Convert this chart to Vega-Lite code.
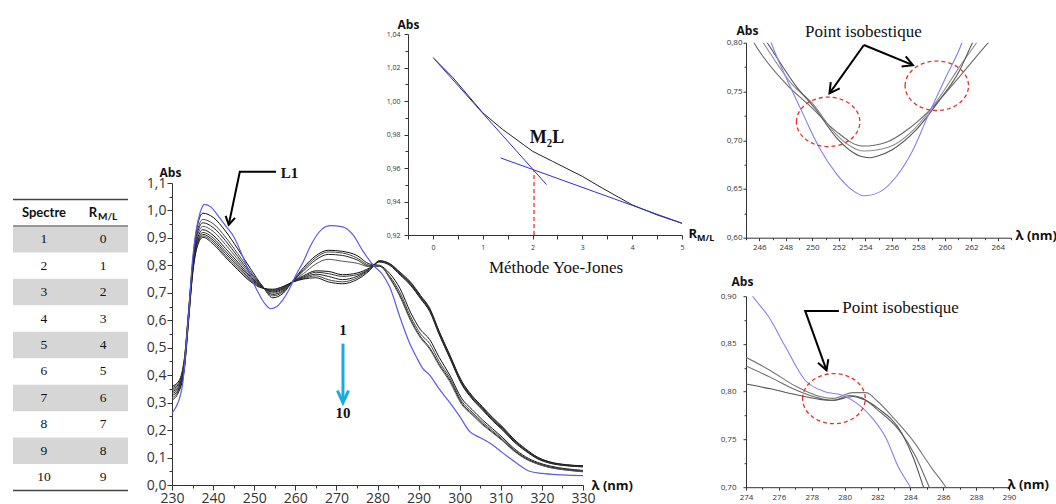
{
  "$schema": "https://vega.github.io/schema/vega-lite/v6.json",
  "padding": {"left": 12, "top": 18, "right": 0, "bottom": 0},
  "background": "white",
  "config": {
    "view": {"stroke": null},
    "axis": {"labelFlush": false, "labelOverlap": false, "grid": false, "labelFont": "Open Sans", "titleFont": "Open Sans", "labelColor": "#333333", "tickColor": "#333333", "domainColor": "#333333", "titleColor": "#111111"}
  },
  "resolve": {"scale": {"color": "independent"}},
  "spacing": 17,
  "hconcat": [
    {
      "width": 115,
      "height": 457,
      "data": {"values": [
        {"row": 1, "rml": 0}, {"row": 2, "rml": 1}, {"row": 3, "rml": 2}, {"row": 4, "rml": 3}, {"row": 5, "rml": 4},
        {"row": 6, "rml": 5}, {"row": 7, "rml": 6}, {"row": 8, "rml": 7}, {"row": 9, "rml": 8}, {"row": 10, "rml": 9}
      ]},
      "layer": [
        {
          "transform": [{"filter": "datum.row % 2 == 1"}],
          "mark": {"type": "rect", "color": "#d6d6d6"},
          "encoding": {
            "y": {"field": "row", "type": "ordinal", "scale": {"domain": [0,1,2,3,4,5,6,7,8,9,10], "paddingInner": 0, "paddingOuter": 0, "range": [165.5, 456.5]}, "axis": null},
            "x": {"value": 0},
            "x2": {"value": "width"}
          }
        },
        {
          "data": {"values": [{"row": 0}]},
          "mark": {"type": "rule", "color": "#444444", "strokeWidth": 1.6},
          "encoding": {"y": {"field": "row", "type": "ordinal", "bandPosition": 0, "axis": null}}
        },
        {
          "data": {"values": [{"row": 1}]},
          "mark": {"type": "rule", "color": "#444444", "strokeWidth": 1},
          "encoding": {"y": {"field": "row", "type": "ordinal", "bandPosition": 0, "axis": null}}
        },
        {
          "data": {"values": [{"row": 10}]},
          "mark": {"type": "rule", "color": "#444444", "strokeWidth": 1.6},
          "encoding": {"y": {"field": "row", "type": "ordinal", "bandPosition": 1, "axis": null}}
        },
        {
          "mark": {"type": "text", "font": "Liberation Serif", "fontSize": 13.5, "color": "#111111", "align": "center", "baseline": "middle"},
          "encoding": {
            "y": {"field": "row", "type": "ordinal", "axis": null},
            "x": {"datum": 0, "type": "quantitative", "scale": {"domain": [-0.5254, 1.4237], "nice": false, "zero": false}, "axis": null},
            "text": {"field": "row"}
          }
        },
        {
          "mark": {"type": "text", "font": "Liberation Serif", "fontSize": 13.5, "color": "#111111", "align": "center", "baseline": "middle"},
          "encoding": {
            "y": {"field": "row", "type": "ordinal", "axis": null},
            "x": {"datum": 1, "type": "quantitative", "axis": null},
            "text": {"field": "rml"}
          }
        },
        {
          "data": {"values": [{"row": 0, "t": "Spectre"}]},
          "mark": {"type": "text", "font": "Lato", "fontWeight": "bold", "fontSize": 13, "color": "#111111", "align": "center", "baseline": "middle"},
          "encoding": {
            "y": {"field": "row", "type": "ordinal", "axis": null},
            "x": {"datum": 0, "type": "quantitative", "axis": null},
            "text": {"field": "t"}
          }
        },
        {
          "data": {"values": [{"row": 0, "t": "R"}]},
          "mark": {"type": "text", "font": "Lato", "fontWeight": "bold", "fontSize": 13, "color": "#111111", "align": "center", "baseline": "middle", "dx": -10},
          "encoding": {
            "y": {"field": "row", "type": "ordinal", "axis": null},
            "x": {"datum": 1, "type": "quantitative", "axis": null},
            "text": {"field": "t"}
          }
        },
        {
          "data": {"values": [{"row": 0, "t": "M/L"}]},
          "mark": {"type": "text", "font": "Lato", "fontWeight": "bold", "fontSize": 10, "color": "#111111", "align": "left", "baseline": "middle", "dx": -5, "dy": 4},
          "encoding": {
            "y": {"field": "row", "type": "ordinal", "axis": null},
            "x": {"datum": 1, "type": "quantitative", "axis": null},
            "text": {"field": "t"}
          }
        }
      ]
    },
    {
      "spacing": 5,
      "resolve": {"scale": {"color": "independent"}},
      "hconcat": [
        {
          "columns": 1,
          "align": "none",
          "spacing": -111,
          "resolve": {"scale": {"color": "independent"}},
          "concat": [
            {
              "spacing": 0,
              "hconcat": [
                {"width": 214, "height": 1, "data": {"values": []}, "mark": "point"},
                {
                  "width": 274,
                  "height": 201,
                  "title": {"text": "Méthode Yoe-Jones", "orient": "bottom", "anchor": "middle", "font": "Liberation Serif", "fontSize": 17, "fontWeight": "normal", "color": "#111111", "offset": 10, "dx": 11},
                  "layer": [
                    {
                      "data": {"values": [
                        {"r": 0, "a": 1.026}, {"r": 0.4, "a": 1.014}, {"r": 1, "a": 0.993}, {"r": 1.4, "a": 0.983}, {"r": 2, "a": 0.97}, {"r": 2.4, "a": 0.964},
                        {"r": 3, "a": 0.955}, {"r": 3.4, "a": 0.948}, {"r": 4, "a": 0.938}, {"r": 4.5, "a": 0.932}, {"r": 5, "a": 0.927}
                      ]},
                      "mark": {"type": "line", "color": "#222222", "strokeWidth": 1},
                      "encoding": {
                        "x": {"field": "r", "type": "quantitative", "scale": {"domain": [-0.5, 5], "nice": false, "zero": false},
                          "axis": {"orient": "bottom", "values": [0,1,2,3,4,5], "format": "d", "labelFontSize": 7, "tickSize": 4, "labelPadding": 4, "title": "R", "titleFontSize": 13, "titleFontWeight": "bold", "titleAngle": 0, "titleAlign": "left", "titleBaseline": "middle", "titleX": 280, "titleY": -2}},
                        "y": {"field": "a", "type": "quantitative", "scale": {"domain": [0.92, 1.04], "nice": false, "zero": false},
                          "axis": {"orient": "left", "values": [0.92,0.94,0.96,0.98,1.0,1.02,1.04], "labelExpr": "replace(format(datum.value,'.2f'),'.',',')", "labelFontSize": 7, "tickSize": 4, "labelPadding": 4, "title": "Abs", "titleFontSize": 12, "titleFontWeight": "bold", "titleAngle": 0, "titleAlign": "center", "titleBaseline": "alphabetic", "titleX": 0, "titleY": -6}}
                      }
                    },
                    {
                      "data": {"values": [
                        {"r": 0.03, "a": 1.025, "seg": "t1"}, {"r": 2.28, "a": 0.9501, "seg": "t1"},
                        {"r": 1.36, "a": 0.966, "seg": "t2"}, {"r": 5, "a": 0.927, "seg": "t2"}
                      ]},
                      "mark": {"type": "line", "color": "#2d2de0", "strokeWidth": 1},
                      "encoding": {
                        "x": {"field": "r", "type": "quantitative", "axis": {"orient": "bottom", "values": [-0.5,0.5,1.5,2.5,3.5,4.5], "labels": false, "domain": false, "tickSize": 4, "title": null}},
                        "y": {"field": "a", "type": "quantitative", "axis": {"orient": "left", "values": [0.93,0.95,0.97,0.99,1.01,1.03], "labels": false, "domain": false, "tickSize": 3, "title": null}},
                        "detail": {"field": "seg", "type": "nominal"}
                      }
                    },
                    {
                      "data": {"values": [{"r": 2.03, "a": 0.92, "a2": 0.9588}]},
                      "mark": {"type": "rule", "color": "#ff2a2a", "strokeWidth": 1.3, "strokeDash": [4, 3]},
                      "encoding": {
                        "x": {"field": "r", "type": "quantitative", "axis": null},
                        "y": {"field": "a", "type": "quantitative", "axis": null},
                        "y2": {"field": "a2"}
                      }
                    },
                    {
                      "data": {"values": [{"r": 2.29, "a": 0.978, "t": "M₂L"}]},
                      "mark": {"type": "text", "font": "Liberation Serif", "fontWeight": "bold", "fontSize": 18, "color": "#111111", "align": "center", "baseline": "middle"},
                      "encoding": {
                        "x": {"field": "r", "type": "quantitative", "axis": null},
                        "y": {"field": "a", "type": "quantitative", "axis": null},
                        "text": {"field": "t"}
                      }
                    },
                    {
                      "data": {"values": [{"r": 5, "a": 0.92, "t": "M/L"}]},
                      "mark": {"type": "text", "font": "Open Sans", "fontWeight": "bold", "fontSize": 9, "color": "#111111", "align": "left", "baseline": "middle", "dx": 15, "dy": 3},
                      "encoding": {
                        "x": {"field": "r", "type": "quantitative", "axis": null},
                        "y": {"field": "a", "type": "quantitative", "axis": null},
                        "text": {"field": "t"}
                      }
                    }
                  ],
                  "resolve": {"axis": {"x": "independent", "y": "independent"}}
                }
              ]
            },
            {
              "width": 411,
              "height": 302,
              "layer": [
                {
                  "data": {"values": [
                    {"nm":230,"s":2,"a":0.36},{"nm":230,"s":3,"a":0.355},{"nm":230,"s":4,"a":0.35},{"nm":230,"s":5,"a":0.345},{"nm":230,"s":6,"a":0.34},{"nm":230,"s":7,"a":0.333},{"nm":230,"s":8,"a":0.326},{"nm":230,"s":9,"a":0.318},{"nm":230,"s":10,"a":0.31},
                    {"nm":231.5,"s":2,"a":0.375},{"nm":231.5,"s":3,"a":0.37},{"nm":231.5,"s":4,"a":0.365},{"nm":231.5,"s":5,"a":0.36},{"nm":231.5,"s":6,"a":0.355},{"nm":231.5,"s":7,"a":0.35},{"nm":231.5,"s":8,"a":0.345},{"nm":231.5,"s":9,"a":0.34},{"nm":231.5,"s":10,"a":0.335},
                    {"nm":233,"s":2,"a":0.46},{"nm":233,"s":3,"a":0.455},{"nm":233,"s":4,"a":0.45},{"nm":233,"s":5,"a":0.445},{"nm":233,"s":6,"a":0.44},{"nm":233,"s":7,"a":0.435},{"nm":233,"s":8,"a":0.43},{"nm":233,"s":9,"a":0.425},{"nm":233,"s":10,"a":0.42},
                    {"nm":234,"s":2,"a":0.63},{"nm":234,"s":3,"a":0.625},{"nm":234,"s":4,"a":0.62},{"nm":234,"s":5,"a":0.615},{"nm":234,"s":6,"a":0.61},{"nm":234,"s":7,"a":0.605},{"nm":234,"s":8,"a":0.6},{"nm":234,"s":9,"a":0.595},{"nm":234,"s":10,"a":0.59},
                    {"nm":235,"s":2,"a":0.81},{"nm":235,"s":3,"a":0.8},{"nm":235,"s":4,"a":0.795},{"nm":235,"s":5,"a":0.79},{"nm":235,"s":6,"a":0.785},{"nm":235,"s":7,"a":0.78},{"nm":235,"s":8,"a":0.775},{"nm":235,"s":9,"a":0.77},{"nm":235,"s":10,"a":0.765},
                    {"nm":236,"s":2,"a":0.93},{"nm":236,"s":3,"a":0.915},{"nm":236,"s":4,"a":0.905},{"nm":236,"s":5,"a":0.895},{"nm":236,"s":6,"a":0.885},{"nm":236,"s":7,"a":0.877},{"nm":236,"s":8,"a":0.87},{"nm":236,"s":9,"a":0.865},{"nm":236,"s":10,"a":0.86},
                    {"nm":237.5,"s":2,"a":0.99},{"nm":237.5,"s":3,"a":0.967},{"nm":237.5,"s":4,"a":0.955},{"nm":237.5,"s":5,"a":0.942},{"nm":237.5,"s":6,"a":0.93},{"nm":237.5,"s":7,"a":0.92},{"nm":237.5,"s":8,"a":0.913},{"nm":237.5,"s":9,"a":0.907},{"nm":237.5,"s":10,"a":0.902},
                    {"nm":240,"s":2,"a":0.975},{"nm":240,"s":3,"a":0.952},{"nm":240,"s":4,"a":0.938},{"nm":240,"s":5,"a":0.924},{"nm":240,"s":6,"a":0.91},{"nm":240,"s":7,"a":0.9},{"nm":240,"s":8,"a":0.892},{"nm":240,"s":9,"a":0.885},{"nm":240,"s":10,"a":0.878},
                    {"nm":243,"s":2,"a":0.925},{"nm":243,"s":3,"a":0.903},{"nm":243,"s":4,"a":0.89},{"nm":243,"s":5,"a":0.876},{"nm":243,"s":6,"a":0.862},{"nm":243,"s":7,"a":0.852},{"nm":243,"s":8,"a":0.844},{"nm":243,"s":9,"a":0.836},{"nm":243,"s":10,"a":0.83},
                    {"nm":246,"s":2,"a":0.86},{"nm":246,"s":3,"a":0.843},{"nm":246,"s":4,"a":0.832},{"nm":246,"s":5,"a":0.822},{"nm":246,"s":6,"a":0.812},{"nm":246,"s":7,"a":0.804},{"nm":246,"s":8,"a":0.797},{"nm":246,"s":9,"a":0.79},{"nm":246,"s":10,"a":0.784},
                    {"nm":249,"s":2,"a":0.79},{"nm":249,"s":3,"a":0.78},{"nm":249,"s":4,"a":0.773},{"nm":249,"s":5,"a":0.767},{"nm":249,"s":6,"a":0.761},{"nm":249,"s":7,"a":0.756},{"nm":249,"s":8,"a":0.751},{"nm":249,"s":9,"a":0.746},{"nm":249,"s":10,"a":0.742},
                    {"nm":252,"s":2,"a":0.725},{"nm":252,"s":3,"a":0.724},{"nm":252,"s":4,"a":0.723},{"nm":252,"s":5,"a":0.722},{"nm":252,"s":6,"a":0.721},{"nm":252,"s":7,"a":0.72},{"nm":252,"s":8,"a":0.719},{"nm":252,"s":9,"a":0.718},{"nm":252,"s":10,"a":0.717},
                    {"nm":254.5,"s":2,"a":0.682},{"nm":254.5,"s":3,"a":0.689},{"nm":254.5,"s":4,"a":0.694},{"nm":254.5,"s":5,"a":0.699},{"nm":254.5,"s":6,"a":0.703},{"nm":254.5,"s":7,"a":0.706},{"nm":254.5,"s":8,"a":0.709},{"nm":254.5,"s":9,"a":0.711},{"nm":254.5,"s":10,"a":0.713},
                    {"nm":257,"s":2,"a":0.698},{"nm":257,"s":3,"a":0.703},{"nm":257,"s":4,"a":0.707},{"nm":257,"s":5,"a":0.711},{"nm":257,"s":6,"a":0.714},{"nm":257,"s":7,"a":0.717},{"nm":257,"s":8,"a":0.719},{"nm":257,"s":9,"a":0.721},{"nm":257,"s":10,"a":0.723},
                    {"nm":259.5,"s":2,"a":0.745},{"nm":259.5,"s":3,"a":0.745},{"nm":259.5,"s":4,"a":0.744},{"nm":259.5,"s":5,"a":0.743},{"nm":259.5,"s":6,"a":0.742},{"nm":259.5,"s":7,"a":0.742},{"nm":259.5,"s":8,"a":0.741},{"nm":259.5,"s":9,"a":0.74},{"nm":259.5,"s":10,"a":0.74},
                    {"nm":262,"s":2,"a":0.792},{"nm":262,"s":3,"a":0.786},{"nm":262,"s":4,"a":0.78},{"nm":262,"s":5,"a":0.77},{"nm":262,"s":6,"a":0.762},{"nm":262,"s":7,"a":0.758},{"nm":262,"s":8,"a":0.755},{"nm":262,"s":9,"a":0.752},{"nm":262,"s":10,"a":0.75},
                    {"nm":265,"s":2,"a":0.835},{"nm":265,"s":3,"a":0.828},{"nm":265,"s":4,"a":0.82},{"nm":265,"s":5,"a":0.805},{"nm":265,"s":6,"a":0.78},{"nm":265,"s":7,"a":0.775},{"nm":265,"s":8,"a":0.768},{"nm":265,"s":9,"a":0.762},{"nm":265,"s":10,"a":0.755},
                    {"nm":268,"s":2,"a":0.855},{"nm":268,"s":3,"a":0.849},{"nm":268,"s":4,"a":0.84},{"nm":268,"s":5,"a":0.822},{"nm":268,"s":6,"a":0.778},{"nm":268,"s":7,"a":0.77},{"nm":268,"s":8,"a":0.76},{"nm":268,"s":9,"a":0.748},{"nm":268,"s":10,"a":0.74},
                    {"nm":271.5,"s":2,"a":0.851},{"nm":271.5,"s":3,"a":0.845},{"nm":271.5,"s":4,"a":0.836},{"nm":271.5,"s":5,"a":0.815},{"nm":271.5,"s":6,"a":0.766},{"nm":271.5,"s":7,"a":0.76},{"nm":271.5,"s":8,"a":0.748},{"nm":271.5,"s":9,"a":0.74},{"nm":271.5,"s":10,"a":0.733},
                    {"nm":275,"s":2,"a":0.836},{"nm":275,"s":3,"a":0.827},{"nm":275,"s":4,"a":0.82},{"nm":275,"s":5,"a":0.808},{"nm":275,"s":6,"a":0.772},{"nm":275,"s":7,"a":0.766},{"nm":275,"s":8,"a":0.76},{"nm":275,"s":9,"a":0.754},{"nm":275,"s":10,"a":0.748},
                    {"nm":278,"s":2,"a":0.805},{"nm":278,"s":3,"a":0.8},{"nm":278,"s":4,"a":0.797},{"nm":278,"s":5,"a":0.795},{"nm":278,"s":6,"a":0.79},{"nm":278,"s":7,"a":0.787},{"nm":278,"s":8,"a":0.785},{"nm":278,"s":9,"a":0.783},{"nm":278,"s":10,"a":0.78},
                    {"nm":280.5,"s":2,"a":0.8},{"nm":280.5,"s":3,"a":0.797},{"nm":280.5,"s":4,"a":0.797},{"nm":280.5,"s":5,"a":0.8},{"nm":280.5,"s":6,"a":0.812},{"nm":280.5,"s":7,"a":0.814},{"nm":280.5,"s":8,"a":0.815},{"nm":280.5,"s":9,"a":0.816},{"nm":280.5,"s":10,"a":0.817},
                    {"nm":283,"s":2,"a":0.77},{"nm":283,"s":3,"a":0.76},{"nm":283,"s":4,"a":0.755},{"nm":283,"s":5,"a":0.752},{"nm":283,"s":6,"a":0.8},{"nm":283,"s":7,"a":0.802},{"nm":283,"s":8,"a":0.804},{"nm":283,"s":9,"a":0.805},{"nm":283,"s":10,"a":0.806},
                    {"nm":285.5,"s":2,"a":0.715},{"nm":285.5,"s":3,"a":0.7},{"nm":285.5,"s":4,"a":0.69},{"nm":285.5,"s":5,"a":0.685},{"nm":285.5,"s":6,"a":0.765},{"nm":285.5,"s":7,"a":0.768},{"nm":285.5,"s":8,"a":0.77},{"nm":285.5,"s":9,"a":0.772},{"nm":285.5,"s":10,"a":0.775},
                    {"nm":288,"s":2,"a":0.63},{"nm":288,"s":3,"a":0.615},{"nm":288,"s":4,"a":0.605},{"nm":288,"s":5,"a":0.6},{"nm":288,"s":6,"a":0.728},{"nm":288,"s":7,"a":0.731},{"nm":288,"s":8,"a":0.734},{"nm":288,"s":9,"a":0.737},{"nm":288,"s":10,"a":0.74},
                    {"nm":290.5,"s":2,"a":0.565},{"nm":290.5,"s":3,"a":0.55},{"nm":290.5,"s":4,"a":0.54},{"nm":290.5,"s":5,"a":0.535},{"nm":290.5,"s":6,"a":0.678},{"nm":290.5,"s":7,"a":0.681},{"nm":290.5,"s":8,"a":0.684},{"nm":290.5,"s":9,"a":0.687},{"nm":290.5,"s":10,"a":0.69},
                    {"nm":292.7,"s":2,"a":0.53},{"nm":292.7,"s":3,"a":0.515},{"nm":292.7,"s":4,"a":0.5},{"nm":292.7,"s":5,"a":0.495},{"nm":292.7,"s":6,"a":0.632},{"nm":292.7,"s":7,"a":0.635},{"nm":292.7,"s":8,"a":0.638},{"nm":292.7,"s":9,"a":0.641},{"nm":292.7,"s":10,"a":0.644},
                    {"nm":295,"s":2,"a":0.465},{"nm":295,"s":3,"a":0.45},{"nm":295,"s":4,"a":0.44},{"nm":295,"s":5,"a":0.435},{"nm":295,"s":6,"a":0.548},{"nm":295,"s":7,"a":0.551},{"nm":295,"s":8,"a":0.554},{"nm":295,"s":9,"a":0.557},{"nm":295,"s":10,"a":0.56},
                    {"nm":297.6,"s":2,"a":0.4},{"nm":297.6,"s":3,"a":0.39},{"nm":297.6,"s":4,"a":0.382},{"nm":297.6,"s":5,"a":0.376},{"nm":297.6,"s":6,"a":0.462},{"nm":297.6,"s":7,"a":0.465},{"nm":297.6,"s":8,"a":0.468},{"nm":297.6,"s":9,"a":0.471},{"nm":297.6,"s":10,"a":0.474},
                    {"nm":300.5,"s":2,"a":0.315},{"nm":300.5,"s":3,"a":0.305},{"nm":300.5,"s":4,"a":0.298},{"nm":300.5,"s":5,"a":0.293},{"nm":300.5,"s":6,"a":0.366},{"nm":300.5,"s":7,"a":0.369},{"nm":300.5,"s":8,"a":0.372},{"nm":300.5,"s":9,"a":0.375},{"nm":300.5,"s":10,"a":0.378},
                    {"nm":303,"s":2,"a":0.275},{"nm":303,"s":3,"a":0.266},{"nm":303,"s":4,"a":0.26},{"nm":303,"s":5,"a":0.256},{"nm":303,"s":6,"a":0.314},{"nm":303,"s":7,"a":0.317},{"nm":303,"s":8,"a":0.32},{"nm":303,"s":9,"a":0.323},{"nm":303,"s":10,"a":0.326},
                    {"nm":305.5,"s":2,"a":0.238},{"nm":305.5,"s":3,"a":0.23},{"nm":305.5,"s":4,"a":0.224},{"nm":305.5,"s":5,"a":0.22},{"nm":305.5,"s":6,"a":0.274},{"nm":305.5,"s":7,"a":0.277},{"nm":305.5,"s":8,"a":0.28},{"nm":305.5,"s":9,"a":0.283},{"nm":305.5,"s":10,"a":0.286},
                    {"nm":308,"s":2,"a":0.205},{"nm":308,"s":3,"a":0.198},{"nm":308,"s":4,"a":0.193},{"nm":308,"s":5,"a":0.19},{"nm":308,"s":6,"a":0.234},{"nm":308,"s":7,"a":0.237},{"nm":308,"s":8,"a":0.24},{"nm":308,"s":9,"a":0.243},{"nm":308,"s":10,"a":0.246},
                    {"nm":310.5,"s":2,"a":0.172},{"nm":310.5,"s":3,"a":0.166},{"nm":310.5,"s":4,"a":0.162},{"nm":310.5,"s":5,"a":0.16},{"nm":310.5,"s":6,"a":0.199},{"nm":310.5,"s":7,"a":0.202},{"nm":310.5,"s":8,"a":0.205},{"nm":310.5,"s":9,"a":0.208},{"nm":310.5,"s":10,"a":0.211},
                    {"nm":313,"s":2,"a":0.136},{"nm":313,"s":3,"a":0.131},{"nm":313,"s":4,"a":0.128},{"nm":313,"s":5,"a":0.126},{"nm":313,"s":6,"a":0.16},{"nm":313,"s":7,"a":0.163},{"nm":313,"s":8,"a":0.165},{"nm":313,"s":9,"a":0.167},{"nm":313,"s":10,"a":0.17},
                    {"nm":316,"s":2,"a":0.103},{"nm":316,"s":3,"a":0.099},{"nm":316,"s":4,"a":0.097},{"nm":316,"s":5,"a":0.095},{"nm":316,"s":6,"a":0.124},{"nm":316,"s":7,"a":0.126},{"nm":316,"s":8,"a":0.128},{"nm":316,"s":9,"a":0.13},{"nm":316,"s":10,"a":0.132},
                    {"nm":319,"s":2,"a":0.082},{"nm":319,"s":3,"a":0.079},{"nm":319,"s":4,"a":0.077},{"nm":319,"s":5,"a":0.076},{"nm":319,"s":6,"a":0.095},{"nm":319,"s":7,"a":0.097},{"nm":319,"s":8,"a":0.098},{"nm":319,"s":9,"a":0.1},{"nm":319,"s":10,"a":0.101},
                    {"nm":322,"s":2,"a":0.069},{"nm":322,"s":3,"a":0.066},{"nm":322,"s":4,"a":0.064},{"nm":322,"s":5,"a":0.063},{"nm":322,"s":6,"a":0.079},{"nm":322,"s":7,"a":0.081},{"nm":322,"s":8,"a":0.082},{"nm":322,"s":9,"a":0.083},{"nm":322,"s":10,"a":0.084},
                    {"nm":326,"s":2,"a":0.059},{"nm":326,"s":3,"a":0.057},{"nm":326,"s":4,"a":0.055},{"nm":326,"s":5,"a":0.054},{"nm":326,"s":6,"a":0.07},{"nm":326,"s":7,"a":0.071},{"nm":326,"s":8,"a":0.072},{"nm":326,"s":9,"a":0.073},{"nm":326,"s":10,"a":0.074},
                    {"nm":330,"s":2,"a":0.053},{"nm":330,"s":3,"a":0.051},{"nm":330,"s":4,"a":0.049},{"nm":330,"s":5,"a":0.048},{"nm":330,"s":6,"a":0.066},{"nm":330,"s":7,"a":0.067},{"nm":330,"s":8,"a":0.068},{"nm":330,"s":9,"a":0.069},{"nm":330,"s":10,"a":0.07}
                  ]},
                  "mark": {"type": "line", "strokeWidth": 1, "interpolate": "monotone"},
                  "encoding": {
                    "x": {"field": "nm", "type": "quantitative", "scale": {"domain": [230, 330], "nice": false, "zero": false},
                      "axis": {"orient": "bottom", "values": [230,240,250,260,270,280,290,300,310,320,330], "format": "d", "labelFontSize": 14, "tickSize": 5, "labelPadding": 1, "title": "λ (nm)", "titleFontSize": 13, "titleFontWeight": "bold", "titleAngle": 0, "titleAlign": "left", "titleBaseline": "middle", "titleX": 419, "titleY": 0}},
                    "y": {"field": "a", "type": "quantitative", "scale": {"domain": [0, 1.1], "nice": false, "zero": false},
                      "axis": {"orient": "left", "values": [0,0.1,0.2,0.3,0.4,0.5,0.6,0.7,0.8,0.9,1.0,1.1], "labelExpr": "replace(format(datum.value,'.1f'),'.',',')", "labelFontSize": 14, "tickSize": 5, "labelPadding": 1, "title": "Abs", "titleFontSize": 12, "titleFontWeight": "bold", "titleAngle": 0, "titleAlign": "center", "titleBaseline": "alphabetic", "titleX": -2, "titleY": -7}},
                    "color": {"field": "s", "type": "nominal", "scale": {"domain": [2,3,4,5,6,7,8,9,10], "range": ["#111111","#444444","#222222","#555555","#111111","#333333","#222222","#444444","#1a1a1a"]}, "legend": null}
                  }
                },
                {
                  "data": {"values": [
                    {"nm":230,"a":0.262},{"nm":231,"a":0.285},{"nm":232,"a":0.325},{"nm":232.7,"a":0.38},{"nm":233.3,"a":0.48},{"nm":234,"a":0.61},{"nm":235,"a":0.82},{"nm":235.8,"a":0.92},{"nm":236.8,"a":0.99},{"nm":238,"a":1.022},{"nm":239.5,"a":1.012},{"nm":241,"a":0.985},{"nm":243,"a":0.945},{"nm":245,"a":0.905},{"nm":247,"a":0.84},{"nm":248.5,"a":0.785},{"nm":250,"a":0.73},{"nm":251,"a":0.7},{"nm":252.5,"a":0.662},{"nm":254,"a":0.642},{"nm":255.5,"a":0.65},{"nm":257,"a":0.675},{"nm":258.6,"a":0.715},{"nm":260,"a":0.76},{"nm":262,"a":0.815},{"nm":263.5,"a":0.865},{"nm":265,"a":0.905},{"nm":266.5,"a":0.932},{"nm":268.5,"a":0.945},{"nm":271.5,"a":0.94},{"nm":274,"a":0.912},{"nm":276.5,"a":0.851},{"nm":279,"a":0.8},{"nm":281.3,"a":0.765},{"nm":283,"a":0.72},{"nm":285.4,"a":0.614},{"nm":287.8,"a":0.517},{"nm":289.5,"a":0.465},{"nm":291,"a":0.425},{"nm":292.7,"a":0.4},{"nm":295,"a":0.35},{"nm":297.6,"a":0.3},{"nm":300,"a":0.25},{"nm":302.4,"a":0.195},{"nm":305,"a":0.172},{"nm":307.3,"a":0.153},{"nm":310.5,"a":0.117},{"nm":313.8,"a":0.08},{"nm":317,"a":0.05},{"nm":320,"a":0.042},{"nm":325,"a":0.037},{"nm":330,"a":0.034}
                  ]},
                  "mark": {"type": "line", "color": "#5b5bf0", "strokeWidth": 1.2, "interpolate": "monotone"},
                  "encoding": {
                    "x": {"field": "nm", "type": "quantitative", "axis": {"orient": "bottom", "values": [235,245,255,265,275,285,295,305,315,325], "labels": false, "domain": false, "tickSize": 3, "title": null}},
                    "y": {"field": "a", "type": "quantitative", "axis": {"orient": "left", "values": [0.05,0.15,0.25,0.35,0.45,0.55,0.65,0.75,0.85,0.95,1.05], "labels": false, "domain": false, "tickSize": 3, "title": null}}
                  }
                },
                {
                  "data": {"values": [{"nm": 255.3, "a": 1.141, "i": 0}, {"nm": 246.5, "a": 1.141, "i": 1}, {"nm": 243.8, "a": 0.948, "i": 2}]},
                  "mark": {"type": "line", "color": "#000000", "strokeWidth": 2},
                  "encoding": {
                    "x": {"field": "nm", "type": "quantitative", "axis": null},
                    "y": {"field": "a", "type": "quantitative", "axis": null},
                    "order": {"field": "i"}
                  }
                },
                {
                  "data": {"values": [{"nm": 243.8, "a": 0.948}]},
                  "mark": {"type": "point", "shape": "M -0.6 -1 L 0 0 L 0.6 -1", "filled": false, "color": "#000000", "strokeWidth": 2, "size": 256, "angle": 11.7, "opacity": 1},
                  "encoding": {
                    "x": {"field": "nm", "type": "quantitative", "axis": null},
                    "y": {"field": "a", "type": "quantitative", "axis": null}
                  }
                },
                {
                  "data": {"values": [{"nm": 258.6, "a": 1.138, "t": "L1"}, {"nm": 271.6, "a": 0.566, "t": "1"}, {"nm": 271.6, "a": 0.262, "t": "10"}]},
                  "mark": {"type": "text", "font": "Liberation Serif", "fontWeight": "bold", "fontSize": 15, "color": "#111111", "align": "center", "baseline": "middle"},
                  "encoding": {
                    "x": {"field": "nm", "type": "quantitative", "axis": null},
                    "y": {"field": "a", "type": "quantitative", "axis": null},
                    "text": {"field": "t"}
                  }
                },
                {
                  "data": {"values": [{"nm": 271.6, "a": 0.515, "a2": 0.31}]},
                  "mark": {"type": "rule", "color": "#1ba9e1", "strokeWidth": 3},
                  "encoding": {
                    "x": {"field": "nm", "type": "quantitative", "axis": null},
                    "y": {"field": "a", "type": "quantitative", "axis": null},
                    "y2": {"field": "a2"}
                  }
                },
                {
                  "data": {"values": [{"nm": 271.6, "a": 0.3}]},
                  "mark": {"type": "point", "shape": "M -0.46 -1 L 0 0 L 0.46 -1", "filled": false, "color": "#1ba9e1", "strokeWidth": 3, "size": 576, "opacity": 1},
                  "encoding": {
                    "x": {"field": "nm", "type": "quantitative", "axis": null},
                    "y": {"field": "a", "type": "quantitative", "axis": null}
                  }
                }
              ],
              "resolve": {"axis": {"x": "independent", "y": "independent"}}
            }
          ]
        },
        {
          "columns": 1,
          "align": "none",
          "spacing": -12.3,
          "resolve": {"scale": {"color": "independent"}},
          "concat": [
            {"width": 1, "height": 1, "data": {"values": []}, "mark": "point"},
            {
              "spacing": 23.5,
              "resolve": {"scale": {"color": "independent"}},
              "vconcat": [
                {
                  "width": 265,
                  "height": 195,
                  "layer": [
                    {
                      "data": {"values": [
                        {"nm":245.0,"a":0.815,"g":"G3"},{"nm":245.6,"a":0.8,"g":"G3"},{"nm":248.0,"a":0.758,"g":"G3"},{"nm":250.0,"a":0.733,"g":"G3"},{"nm":251.8,"a":0.709,"g":"G3"},{"nm":253.8,"a":0.694,"g":"G3"},{"nm":255.6,"a":0.698,"g":"G3"},{"nm":257.3,"a":0.712,"g":"G3"},{"nm":259.1,"a":0.734,"g":"G3"},{"nm":261.1,"a":0.765,"g":"G3"},{"nm":263.3,"a":0.8,"g":"G3"},{"nm":264.0,"a":0.81,"g":"G3"},
                        {"nm":245.8,"a":0.81,"g":"G2"},{"nm":246.3,"a":0.8,"g":"G2"},{"nm":248.5,"a":0.757,"g":"G2"},{"nm":250.0,"a":0.738,"g":"G2"},{"nm":251.8,"a":0.706,"g":"G2"},{"nm":253.9,"a":0.689,"g":"G2"},{"nm":255.8,"a":0.693,"g":"G2"},{"nm":257.6,"a":0.71,"g":"G2"},{"nm":259.6,"a":0.744,"g":"G2"},{"nm":261.1,"a":0.775,"g":"G2"},{"nm":262.4,"a":0.8,"g":"G2"},{"nm":262.9,"a":0.81,"g":"G2"},
                        {"nm":246.1,"a":0.81,"g":"G1"},{"nm":246.6,"a":0.8,"g":"G1"},{"nm":248.8,"a":0.755,"g":"G1"},{"nm":250.3,"a":0.731,"g":"G1"},{"nm":251.8,"a":0.703,"g":"G1"},{"nm":253.8,"a":0.683,"g":"G1"},{"nm":254.4,"a":0.682,"g":"G1"},{"nm":255.0,"a":0.684,"g":"G1"},{"nm":256.0,"a":0.69,"g":"G1"},{"nm":257.8,"a":0.71,"g":"G1"},{"nm":259.6,"a":0.741,"g":"G1"},{"nm":261.1,"a":0.771,"g":"G1"},{"nm":262.1,"a":0.8,"g":"G1"},{"nm":262.5,"a":0.81,"g":"G1"}
                      ]},
                      "mark": {"type": "line", "strokeWidth": 1.1, "interpolate": "monotone", "clip": true},
                      "encoding": {
                        "x": {"field": "nm", "type": "quantitative", "scale": {"domain": [245, 265], "nice": false, "zero": false},
                          "axis": {"orient": "bottom", "values": [246,248,250,252,254,256,258,260,262,264], "format": "d", "labelFontSize": 8, "tickSize": 3, "labelPadding": 3, "title": "λ (nm)", "titleFontSize": 13, "titleFontWeight": "bold", "titleAngle": 0, "titleAlign": "left", "titleBaseline": "middle", "titleX": 269, "titleY": -2}},
                        "y": {"field": "a", "type": "quantitative", "scale": {"domain": [0.6, 0.8], "nice": false, "zero": false},
                          "axis": {"orient": "left", "values": [0.6,0.65,0.7,0.75,0.8], "labelExpr": "replace(format(datum.value,'.2f'),'.',',')", "labelFontSize": 8, "tickSize": 3, "labelPadding": 1, "title": "Abs", "titleFontSize": 12, "titleFontWeight": "bold", "titleAngle": 0, "titleAlign": "center", "titleBaseline": "alphabetic", "titleX": 1, "titleY": -8}},
                        "color": {"field": "g", "type": "nominal", "scale": {"domain": ["G1","G2","G3"], "range": ["#555555","#8a8a8a","#6a6a6a"]}, "legend": null}
                      }
                    },
                    {
                      "data": {"values": [
                        {"nm":246.4,"a":0.82},{"nm":246.9,"a":0.8},{"nm":248.0,"a":0.765},{"nm":249.3,"a":0.727},{"nm":250.5,"a":0.693},{"nm":251.8,"a":0.666},{"nm":253.0,"a":0.649},{"nm":253.9,"a":0.643},{"nm":255.1,"a":0.647},{"nm":256.3,"a":0.662},{"nm":257.6,"a":0.69},{"nm":258.8,"a":0.727},{"nm":260.1,"a":0.765},{"nm":261.3,"a":0.8},{"nm":261.8,"a":0.82}
                      ]},
                      "mark": {"type": "line", "color": "#8282f2", "strokeWidth": 1.1, "interpolate": "monotone", "clip": true},
                      "encoding": {
                        "x": {"field": "nm", "type": "quantitative", "axis": {"orient": "bottom", "values": [245,247,249,251,253,255,257,259,261,263,265], "labels": false, "domain": false, "tickSize": 2, "title": null}},
                        "y": {"field": "a", "type": "quantitative", "axis": {"orient": "left", "values": [0.625,0.675,0.725,0.775], "labels": false, "domain": false, "tickSize": 2, "title": null}}
                      }
                    },
                    {
                      "data": {"values": [{"nm": 251.2, "a": 0.7188}, {"nm": 259.4, "a": 0.7558}]},
                      "mark": {"type": "point", "shape": "M -1 0 A 1 0.78 0 1 1 1 0 A 1 0.78 0 1 1 -1 0 Z", "filled": false, "color": "#e8302a", "strokeWidth": 1.3, "strokeDash": [4, 3], "size": 4020, "opacity": 1},
                      "encoding": {
                        "x": {"field": "nm", "type": "quantitative", "axis": null},
                        "y": {"field": "a", "type": "quantitative", "axis": null}
                      }
                    },
                    {
                      "data": {"values": [
                        {"nm": 253.9, "a": 0.7976, "seg": "a", "i": 0}, {"nm": 251.3, "a": 0.748, "seg": "a", "i": 1},
                        {"nm": 253.9, "a": 0.7976, "seg": "b", "i": 0}, {"nm": 257.6, "a": 0.777, "seg": "b", "i": 1}
                      ]},
                      "mark": {"type": "line", "color": "#000000", "strokeWidth": 2},
                      "encoding": {
                        "x": {"field": "nm", "type": "quantitative", "axis": null},
                        "y": {"field": "a", "type": "quantitative", "axis": null},
                        "detail": {"field": "seg", "type": "nominal"},
                        "order": {"field": "i"}
                      }
                    },
                    {
                      "data": {"values": [{"nm": 251.3, "a": 0.748}]},
                      "mark": {"type": "point", "shape": "M -0.55 -1 L 0 0 L 0.55 -1", "filled": false, "color": "#000000", "strokeWidth": 2, "size": 400, "angle": 35.2, "opacity": 1},
                      "encoding": {
                        "x": {"field": "nm", "type": "quantitative", "axis": null},
                        "y": {"field": "a", "type": "quantitative", "axis": null}
                      }
                    },
                    {
                      "data": {"values": [{"nm": 257.6, "a": 0.777}]},
                      "mark": {"type": "point", "shape": "M -0.55 -1 L 0 0 L 0.55 -1", "filled": false, "color": "#000000", "strokeWidth": 2, "size": 400, "angle": 292.1, "opacity": 1},
                      "encoding": {
                        "x": {"field": "nm", "type": "quantitative", "axis": null},
                        "y": {"field": "a", "type": "quantitative", "axis": null}
                      }
                    },
                    {
                      "data": {"values": [{"nm": 253.86, "a": 0.811, "t": "Point isobestique"}]},
                      "mark": {"type": "text", "font": "Liberation Serif", "fontSize": 17, "color": "#111111", "align": "center", "baseline": "middle"},
                      "encoding": {
                        "x": {"field": "nm", "type": "quantitative", "axis": null},
                        "y": {"field": "a", "type": "quantitative", "axis": null},
                        "text": {"field": "t"}
                      }
                    }
                  ],
                  "resolve": {"axis": {"x": "independent", "y": "independent"}}
                },
                {
                  "width": 263,
                  "height": 191,
                  "layer": [
                    {
                      "data": {"values": [
                        {"nm":274,"a":0.836,"g":"A"},{"nm":275.5,"a":0.822,"g":"A"},{"nm":277,"a":0.806,"g":"A"},{"nm":278.5,"a":0.795,"g":"A"},{"nm":279.3,"a":0.793,"g":"A"},{"nm":280.5,"a":0.799,"g":"A"},{"nm":281.3,"a":0.799,"g":"A"},{"nm":282,"a":0.79,"g":"A"},{"nm":283,"a":0.772,"g":"A"},{"nm":284.1,"a":0.75,"g":"A"},{"nm":285.3,"a":0.72,"g":"A"},{"nm":286.15,"a":0.7,"g":"A"},{"nm":286.5,"a":0.69,"g":"A"},
                        {"nm":274,"a":0.827,"g":"B"},{"nm":275.5,"a":0.815,"g":"B"},{"nm":277,"a":0.802,"g":"B"},{"nm":278.5,"a":0.793,"g":"B"},{"nm":279.3,"a":0.791,"g":"B"},{"nm":280.3,"a":0.796,"g":"B"},{"nm":281,"a":0.794,"g":"B"},{"nm":282,"a":0.781,"g":"B"},{"nm":283.3,"a":0.76,"g":"B"},{"nm":284.3,"a":0.733,"g":"B"},{"nm":285.15,"a":0.7,"g":"B"},{"nm":285.4,"a":0.69,"g":"B"},
                        {"nm":274,"a":0.808,"g":"C"},{"nm":275.5,"a":0.803,"g":"C"},{"nm":277,"a":0.797,"g":"C"},{"nm":278.5,"a":0.792,"g":"C"},{"nm":279.3,"a":0.791,"g":"C"},{"nm":280.5,"a":0.795,"g":"C"},{"nm":281,"a":0.793,"g":"C"},{"nm":282,"a":0.783,"g":"C"},{"nm":283.5,"a":0.756,"g":"C"},{"nm":284.2,"a":0.73,"g":"C"},{"nm":284.8,"a":0.7,"g":"C"},{"nm":285.0,"a":0.69,"g":"C"}
                      ]},
                      "mark": {"type": "line", "strokeWidth": 1.1, "interpolate": "monotone", "clip": true},
                      "encoding": {
                        "x": {"field": "nm", "type": "quantitative", "scale": {"domain": [274, 290], "nice": false, "zero": false},
                          "axis": {"orient": "bottom", "values": [274,276,278,280,282,284,286,288,290], "format": "d", "labelFontSize": 8, "tickSize": 3, "labelPadding": 3, "title": "λ (nm)", "titleFontSize": 13, "titleFontWeight": "bold", "titleAngle": 0, "titleAlign": "left", "titleBaseline": "middle", "titleX": 261, "titleY": -3}},
                        "y": {"field": "a", "type": "quantitative", "scale": {"domain": [0.7, 0.9], "nice": false, "zero": false},
                          "axis": {"orient": "left", "values": [0.7,0.75,0.8,0.85,0.9], "labelExpr": "replace(format(datum.value,'.2f'),'.',',')", "labelFontSize": 8, "tickSize": 3, "labelPadding": 7, "title": "Abs", "titleFontSize": 12, "titleFontWeight": "bold", "titleAngle": 0, "titleAlign": "center", "titleBaseline": "alphabetic", "titleX": -4, "titleY": -11}},
                        "color": {"field": "g", "type": "nominal", "scale": {"domain": ["A","B","C"], "range": ["#777777","#6a6a6a","#555555"]}, "legend": null}
                      }
                    },
                    {
                      "data": {"values": [
                        {"nm":274.0,"a":0.91},{"nm":274.4,"a":0.9},{"nm":275.4,"a":0.878},{"nm":276.4,"a":0.847},{"nm":277.6,"a":0.812},{"nm":278.8,"a":0.8},{"nm":279.9,"a":0.796},{"nm":280.9,"a":0.786},{"nm":281.7,"a":0.772},{"nm":282.5,"a":0.752},{"nm":283.3,"a":0.72},{"nm":284.0,"a":0.7},{"nm":284.3,"a":0.69}
                      ]},
                      "mark": {"type": "line", "color": "#8282f2", "strokeWidth": 1.1, "interpolate": "monotone", "clip": true},
                      "encoding": {
                        "x": {"field": "nm", "type": "quantitative", "axis": {"orient": "bottom", "values": [275,277,279,281,283,285,287,289], "labels": false, "domain": false, "tickSize": 2, "title": null}},
                        "y": {"field": "a", "type": "quantitative", "axis": {"orient": "left", "values": [0.725,0.775,0.825,0.875], "labels": false, "domain": false, "tickSize": 2, "title": null}}
                      }
                    },
                    {
                      "data": {"values": [{"nm": 279.35, "a": 0.7927}]},
                      "mark": {"type": "point", "shape": "M -1 0 A 1 0.8 0 1 1 1 0 A 1 0.8 0 1 1 -1 0 Z", "filled": false, "color": "#e8302a", "strokeWidth": 1.3, "strokeDash": [4, 3], "size": 3920, "opacity": 1},
                      "encoding": {
                        "x": {"field": "nm", "type": "quantitative", "axis": null},
                        "y": {"field": "a", "type": "quantitative", "axis": null}
                      }
                    },
                    {
                      "data": {"values": [{"nm": 279.65, "a": 0.8846, "i": 0}, {"nm": 277.6, "a": 0.8846, "i": 1}, {"nm": 278.9, "a": 0.8224, "i": 2}]},
                      "mark": {"type": "line", "color": "#000000", "strokeWidth": 2},
                      "encoding": {
                        "x": {"field": "nm", "type": "quantitative", "axis": null},
                        "y": {"field": "a", "type": "quantitative", "axis": null},
                        "order": {"field": "i"}
                      }
                    },
                    {
                      "data": {"values": [{"nm": 278.9, "a": 0.8224}]},
                      "mark": {"type": "point", "shape": "M -0.55 -1 L 0 0 L 0.55 -1", "filled": false, "color": "#000000", "strokeWidth": 2, "size": 400, "angle": 340.2, "opacity": 1},
                      "encoding": {
                        "x": {"field": "nm", "type": "quantitative", "axis": null},
                        "y": {"field": "a", "type": "quantitative", "axis": null}
                      }
                    },
                    {
                      "data": {"values": [{"nm": 283.4, "a": 0.8874, "t": "Point isobestique"}]},
                      "mark": {"type": "text", "font": "Liberation Serif", "fontSize": 17, "color": "#111111", "align": "center", "baseline": "middle"},
                      "encoding": {
                        "x": {"field": "nm", "type": "quantitative", "axis": null},
                        "y": {"field": "a", "type": "quantitative", "axis": null},
                        "text": {"field": "t"}
                      }
                    }
                  ],
                  "resolve": {"axis": {"x": "independent", "y": "independent"}}
                }
              ]
            }
          ]
        }
      ]
    }
  ]
}
